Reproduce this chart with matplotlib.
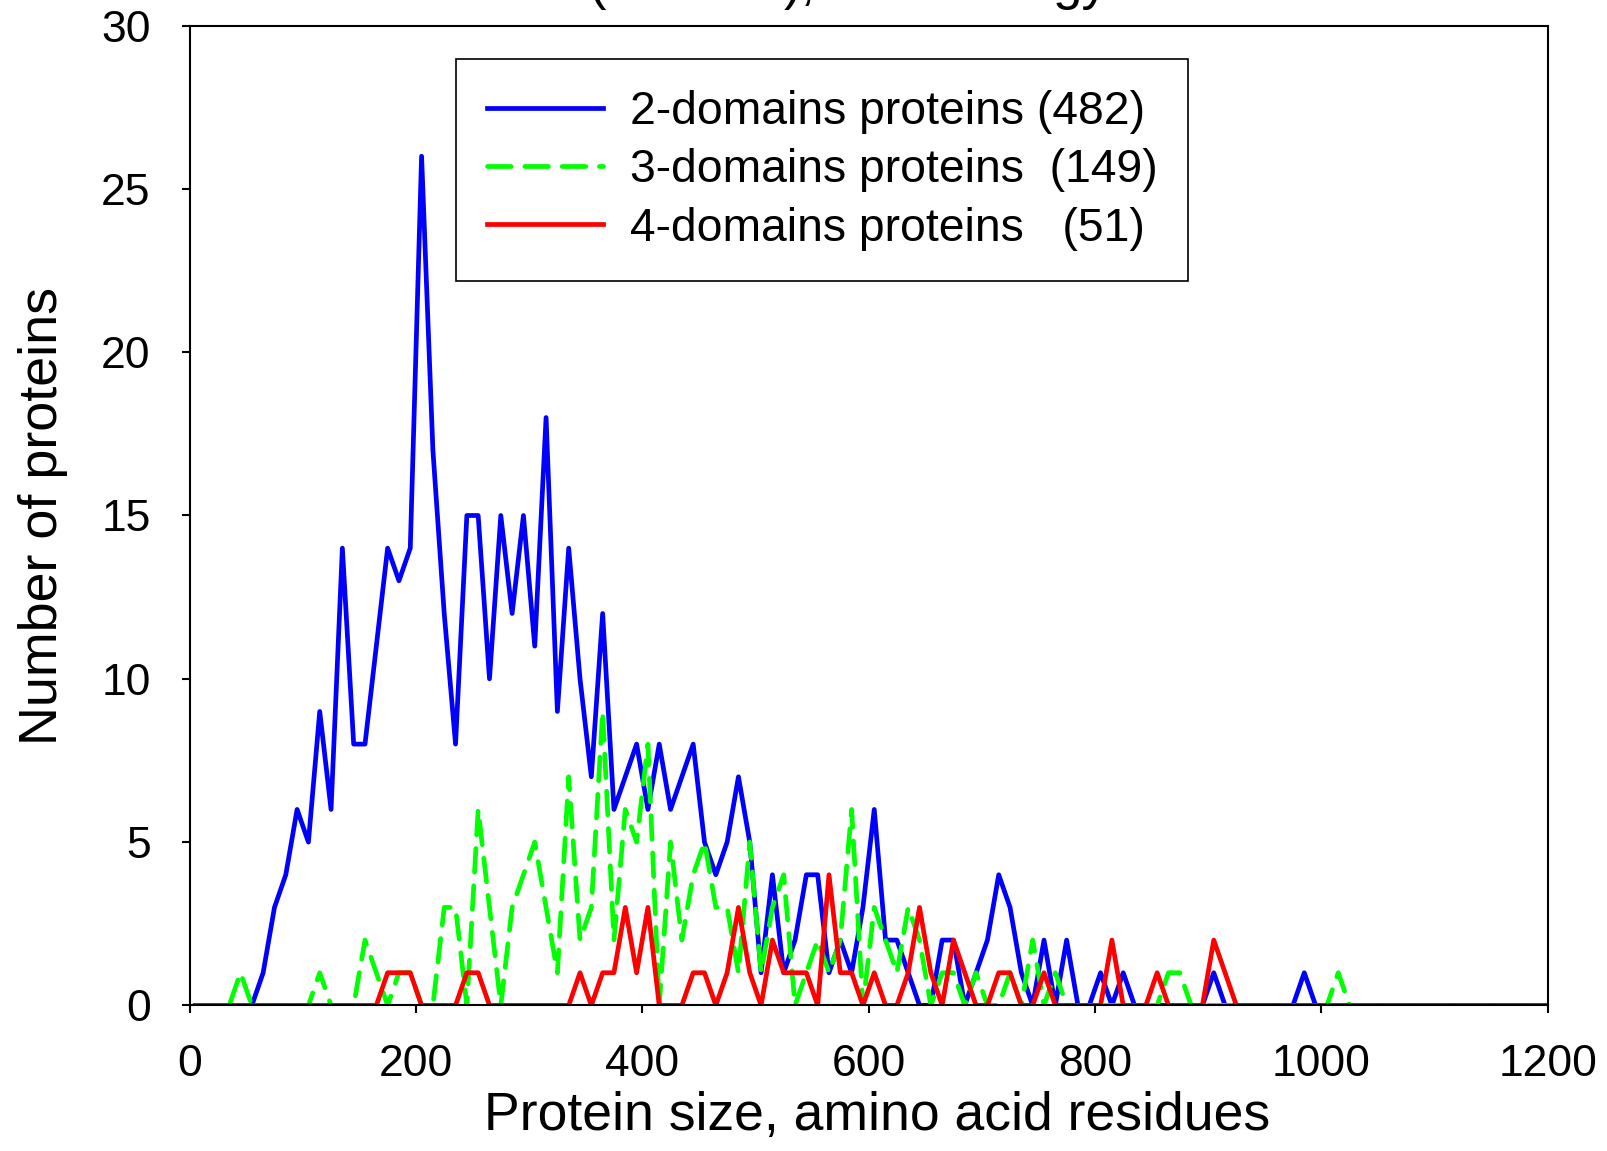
import numpy as np
import matplotlib
matplotlib.use("Agg")
import matplotlib.pyplot as plt

plt.rcParams['font.family'] = ['Liberation Sans', 'DejaVu Sans']

# bin centres (amino acid residues)
sizes = np.arange(5, 1210, 10)

two_domains = [
    0, 0, 0, 0, 0, 0, 1, 3, 4, 6,
    5, 9, 6, 14, 8, 8, 11, 14, 13, 14,
    26, 17, 12, 8, 15, 15, 10, 15, 12, 15,
    11, 18, 9, 14, 10, 7, 12, 6, 7, 8,
    6, 8, 6, 7, 8, 5, 4, 5, 7, 5,
    1, 4, 1, 2, 4, 4, 1, 2, 1, 3,
    6, 2, 2, 1, 0, 0, 2, 2, 0, 1,
    2, 4, 3, 1, 0, 2, 0, 2, 0, 0,
    1, 0, 1, 0, 0, 0, 0, 0, 0, 0,
    1, 0, 0, 0, 0, 0, 0, 0, 1, 0,
    0, 0, 0, 0, 0, 0, 0, 0, 0, 0,
    0, 0, 0, 0, 0, 0, 0, 0, 0, 0,
    0]

three_domains = [
    0, 0, 0, 0, 1, 0, 0, 0, 0, 0,
    0, 1, 0, 0, 0, 2, 1, 0, 1, 1,
    0, 0, 3, 3, 0, 6, 3, 0, 3, 4,
    5, 3, 1, 7, 2, 3, 9, 2, 6, 5,
    8, 0, 5, 2, 4, 5, 3, 3, 1, 5,
    1, 3, 4, 0, 1, 2, 1, 2, 6, 0,
    3, 2, 1, 3, 2, 0, 1, 1, 0, 1,
    0, 0, 1, 0, 2, 0, 1, 0, 0, 0,
    0, 0, 0, 0, 0, 0, 1, 1, 0, 0,
    0, 0, 0, 0, 0, 0, 0, 0, 0, 0,
    0, 1, 0, 0, 0, 0, 0, 0, 0, 0,
    0, 0, 0, 0, 0, 0, 0, 0, 0, 0,
    0]

four_domains = [
    0, 0, 0, 0, 0, 0, 0, 0, 0, 0,
    0, 0, 0, 0, 0, 0, 0, 1, 1, 1,
    0, 0, 0, 0, 1, 1, 0, 0, 0, 0,
    0, 0, 0, 0, 1, 0, 1, 1, 3, 1,
    3, 0, 0, 0, 1, 1, 0, 1, 3, 1,
    0, 2, 1, 1, 1, 0, 4, 1, 1, 0,
    1, 0, 0, 1, 3, 1, 0, 2, 1, 0,
    0, 1, 1, 0, 0, 1, 0, 0, 0, 0,
    0, 2, 0, 0, 0, 1, 0, 0, 0, 0,
    2, 1, 0, 0, 0, 0, 0, 0, 0, 0,
    0, 0, 0, 0, 0, 0, 0, 0, 0, 0,
    0, 0, 0, 0, 0, 0, 0, 0, 0, 0,
    0]

labels = ["2-domains proteins (482)",
          "3-domains proteins  (149)",
          "4-domains proteins   (51)"]

x_ticks = [0, 200, 400, 600, 800, 1000, 1200]
y_ticks = [0, 5, 10, 15, 20, 25, 30]

fig = plt.figure(figsize=(16.07, 11.51), dpi=100)
ax = fig.add_axes([0.11798, 0.12650, 0.84505, 0.85126])

lw = 3.4
ax.plot(sizes, two_domains, color='#0000ff', lw=lw, label=labels[0])
ax.plot(sizes, three_domains, color='#00ff00', lw=lw, label=labels[1],
        dashes=(5.0, 2.9), dash_capstyle='round')
ax.plot(sizes, four_domains, color='#ff0000', lw=lw, label=labels[2])

ax.set_xlim(0, 1200)
ax.set_ylim(0, 30)
ax.set_xticks(x_ticks)
ax.set_yticks(y_ticks)

for s in ax.spines.values():
    s.set_linewidth(1.5)
    s.set_color('black')

ax.tick_params(axis='both', direction='out', length=6, width=1.5,
               labelsize=32, pad=22, top=False, right=False)

ax.set_xlabel("Protein size, amino acid residues", fontsize=38.5)
ax.xaxis.set_label_coords(0.5065, -0.0875)
ax.xaxis.label.set_verticalalignment('top')
ax.set_ylabel("Number of proteins", fontsize=38.8, labelpad=24)

leg = ax.legend(loc='upper left', bbox_to_anchor=(456 / 1607, 1 - 59.4 / 1151),
                bbox_transform=fig.transFigure, borderaxespad=0,
                fontsize=33.3, frameon=True, fancybox=False, framealpha=1,
                edgecolor='black', handlelength=2.52, handletextpad=0.58,
                borderpad=0.66, labelspacing=0.31)
leg.get_frame().set_linewidth(1.2)

# clipped title remnants at the top edge (cut off in the reference too)
title_y = 1.0 + 1 / 1151
fig.text(597 / 1607, title_y, "(", fontsize=38, ha='center', va='baseline')
fig.text(800 / 1607, title_y, "),", fontsize=38, ha='center', va='baseline')
fig.text(1081 / 1607, title_y, "gy", fontsize=38, ha='center', va='baseline')

fig.savefig("out.png", dpi=100)
